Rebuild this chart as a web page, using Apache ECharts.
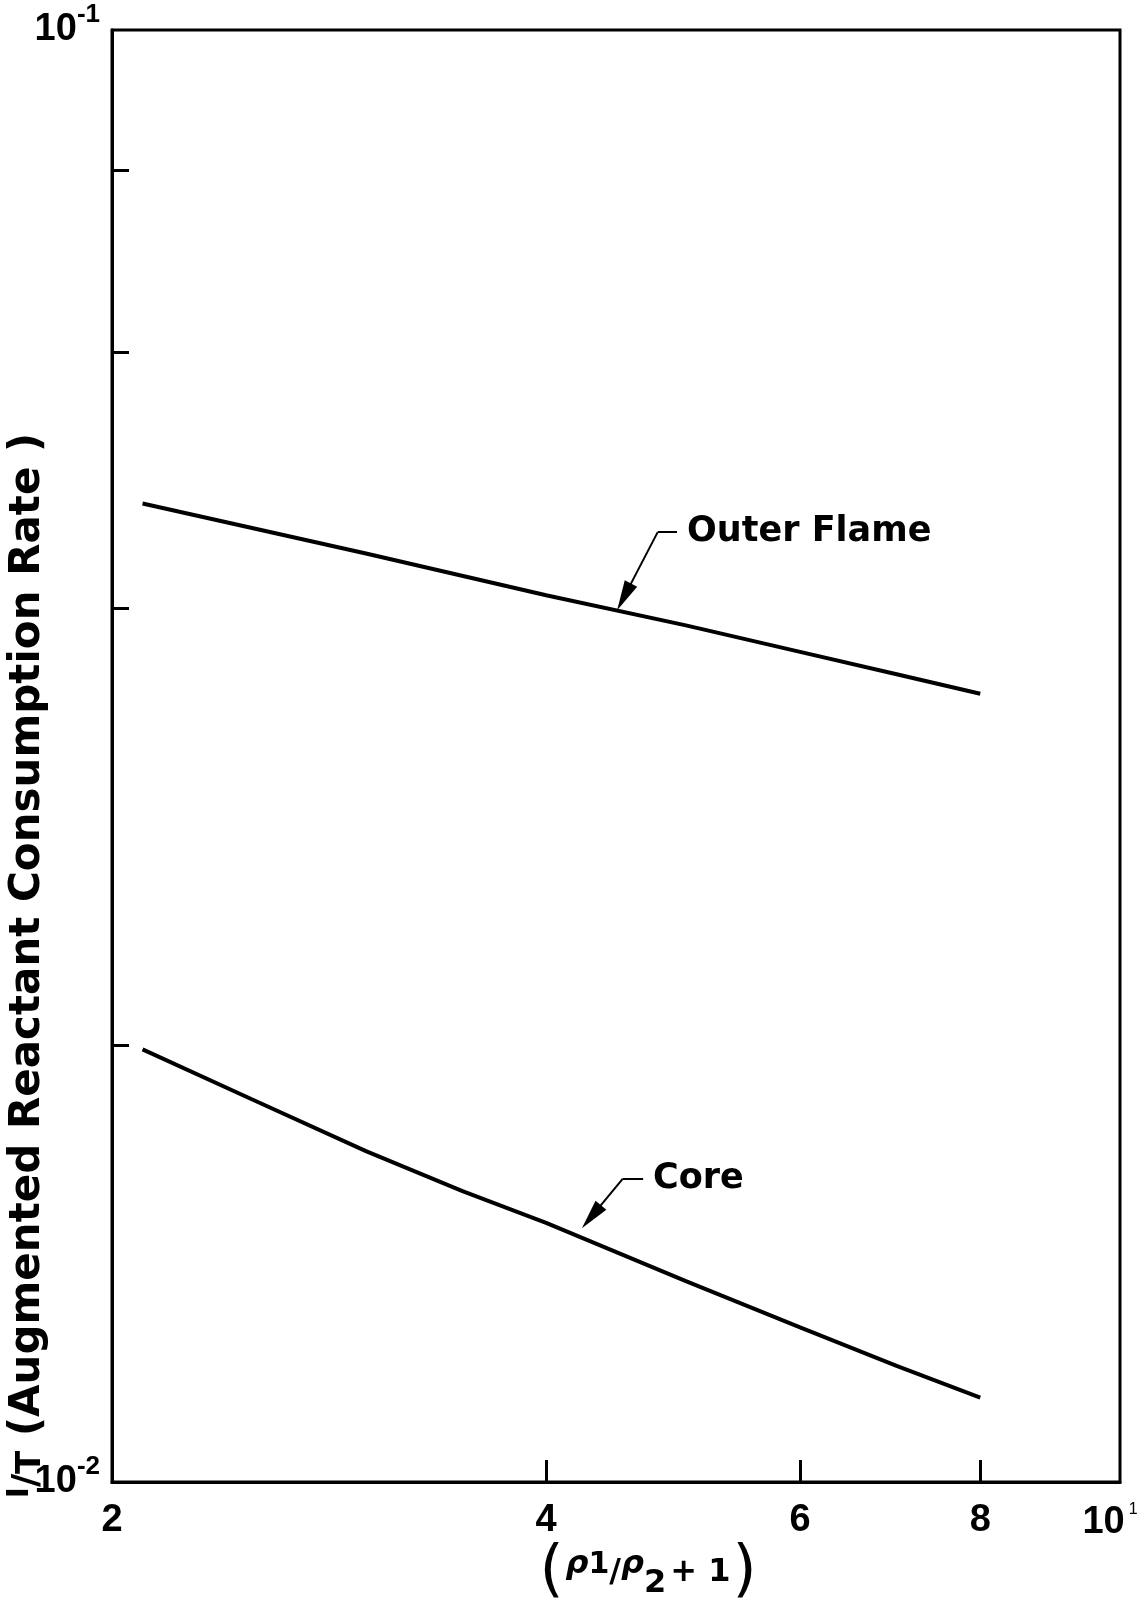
<!DOCTYPE html>
<html>
<head>
<meta charset="utf-8">
<script src="https://cdn.jsdelivr.net/npm/echarts@6/dist/echarts.min.js"></script>
<style>
  html, body { margin: 0; padding: 0; background: #fff; }
  #chart { width: 1139px; height: 1600px; }
</style>
</head>
<body>
<div id="chart"></div>
<script>
// ---- data ----
const outerX = [2.1, 3, 4, 5, 6, 7, 8];
const outerY = [0.0472, 0.0436, 0.0408, 0.0389, 0.0373, 0.0360, 0.0349];
const coreX = [2.1, 2.5, 3, 3.5, 4, 5, 6, 7, 8];
const coreY = [0.01986, 0.01835, 0.0169, 0.01586, 0.01508, 0.01375, 0.01278, 0.01202, 0.01143];
const xTickValues = [4, 6, 8];
const xLabelValues = [2, 4, 6, 8, 10];
const yTickValues = [0.02, 0.04, 0.06, 0.08];
const yLabelValues = [0.01, 0.1];
// annotation anchors: elbow, arrow end, label end (data coordinates)
const outerNote = { text: 'Outer Flame', elbow: [4.78, 0.0451], tip: [4.53, 0.0407], end: [4.93, 0.0451] };
const coreNote = { text: 'Core', elbow: [4.52, 0.01617], tip: [4.30, 0.01523], end: [4.67, 0.01617] };

const FONT = 'DejaVu Sans';
const FONT2 = 'Liberation Sans';
const chart = echarts.init(document.getElementById('chart'), null, { renderer: 'canvas' });

function pairs(xs, ys) { return xs.map((x, i) => [x, ys[i]]); }

function noteLines(n) {
  return {
    silent: true,
    animation: false,
    symbol: ['none', 'triangle'],
    symbolSize: [14, 30],
    lineStyle: { color: '#000', width: 2, type: 'solid' },
    label: { show: false },
    emphasis: { disabled: true },
    data: [
      [{ coord: n.elbow }, { coord: n.tip }],
      [{ coord: n.elbow, symbol: 'none' },
       { coord: n.end, symbol: 'none',
         label: { show: true, position: 'end', distance: 10, formatter: n.text,
                  color: '#000', fontFamily: FONT, fontWeight: 'bold', fontSize: 35 } }]
    ]
  };
}

const option = {
  backgroundColor: '#fff',
  animation: false,
  grid: { left: 112, right: 19, top: 30, bottom: 118, outerBoundsMode: 'none', containLabel: false,
          show: true, borderColor: '#000', borderWidth: 3 },
  xAxis: {
    type: 'log', logBase: 10, min: 2, max: 10,
    name: '{p|(}{r|ρ}{n|1}{t|/}{r|ρ}{d|2}{t|+ 1}{p|)}',
    nameLocation: 'middle', nameGap: 60, nameMoveOverlap: false,
    nameTextStyle: {
      padding: [0, 0, 0, 64],
      rich: {
        p: { fontFamily: FONT, fontSize: 62, color: '#000', padding: [0, 2, 0, 2] },
        r: { fontFamily: FONT, fontSize: 32, color: '#000', fontStyle: 'italic', fontWeight: 'bold', padding: [0, 0, 16, 0] },
        n: { fontFamily: FONT, fontSize: 30, color: '#000', fontWeight: 'bold', padding: [0, 0, 16, 0] },
        t: { fontFamily: FONT, fontSize: 32, color: '#000', fontWeight: 'bold' },
        d: { fontFamily: FONT, fontSize: 32, color: '#000', fontWeight: 'bold', padding: [22, 4, 0, 0] }
      }
    },
    axisLine: { show: true, lineStyle: { color: '#000', width: 3 } },
    axisTick: { show: true, inside: true, length: 22, customValues: xTickValues, lineStyle: { color: '#000', width: 3 } },
    axisLabel: {
      show: true, margin: 20, customValues: xLabelValues,
      formatter: v => (Math.abs(v - 10) < 1e-6 ? '{a|10}{s|1}' : '{a|' + Math.round(v) + '}'),
      rich: {
        a: { fontFamily: FONT2, fontSize: 38, fontWeight: 'bold', color: '#000' },
        s: { fontFamily: FONT2, fontSize: 16, color: '#000', padding: [0, 20, 26, 4] }
      }
    },
    splitLine: { show: false },
    minorTick: { show: false }
  },
  yAxis: {
    type: 'log', logBase: 10, min: 0.01, max: 0.1,
    name: '{i|I}{t|/}{g|T}{a| (Augmented Reactant Consumption Rate )}',
    nameLocation: 'middle', nameGap: 61, nameMoveOverlap: false,
    nameTextStyle: {
      padding: [0, 419, 0, 0],
      rich: {
        i: { fontFamily: FONT, fontSize: 30, fontWeight: 'bold', color: '#000', padding: [0, 0, 16, 0] },
        t: { fontFamily: FONT, fontSize: 36, fontWeight: 'bold', color: '#000' },
        g: { fontFamily: FONT, fontSize: 34, fontWeight: 'bold', color: '#000', padding: [6, 0, 0, 0] },
        a: { fontFamily: FONT, fontSize: 42, fontWeight: 'bold', color: '#000' }
      }
    },
    axisLine: { show: true, lineStyle: { color: '#000', width: 3 } },
    axisTick: { show: true, inside: true, length: 17, customValues: yTickValues, lineStyle: { color: '#000', width: 3 } },
    axisLabel: {
      show: true, margin: 12, customValues: yLabelValues,
      formatter: v => '{a|10}{s|' + Math.round(Math.log10(v)) + '}',
      rich: {
        a: { fontFamily: FONT2, fontSize: 38, fontWeight: 'bold', color: '#000' },
        s: { fontFamily: FONT2, fontSize: 26, fontWeight: 'bold', color: '#000', padding: [0, 0, 30, 0] }
      }
    },
    splitLine: { show: false },
    minorTick: { show: false }
  },
  series: [
    {
      name: 'Outer Flame', type: 'line', data: pairs(outerX, outerY),
      showSymbol: false, symbol: 'none', smooth: false,
      lineStyle: { color: '#000', width: 4 },
      markLine: noteLines(outerNote)
    },
    {
      name: 'Core', type: 'line', data: pairs(coreX, coreY),
      showSymbol: false, symbol: 'none', smooth: false,
      lineStyle: { color: '#000', width: 4 },
      markLine: noteLines(coreNote)
    }
  ]
};
chart.setOption(option);
</script>
</body>
</html>
